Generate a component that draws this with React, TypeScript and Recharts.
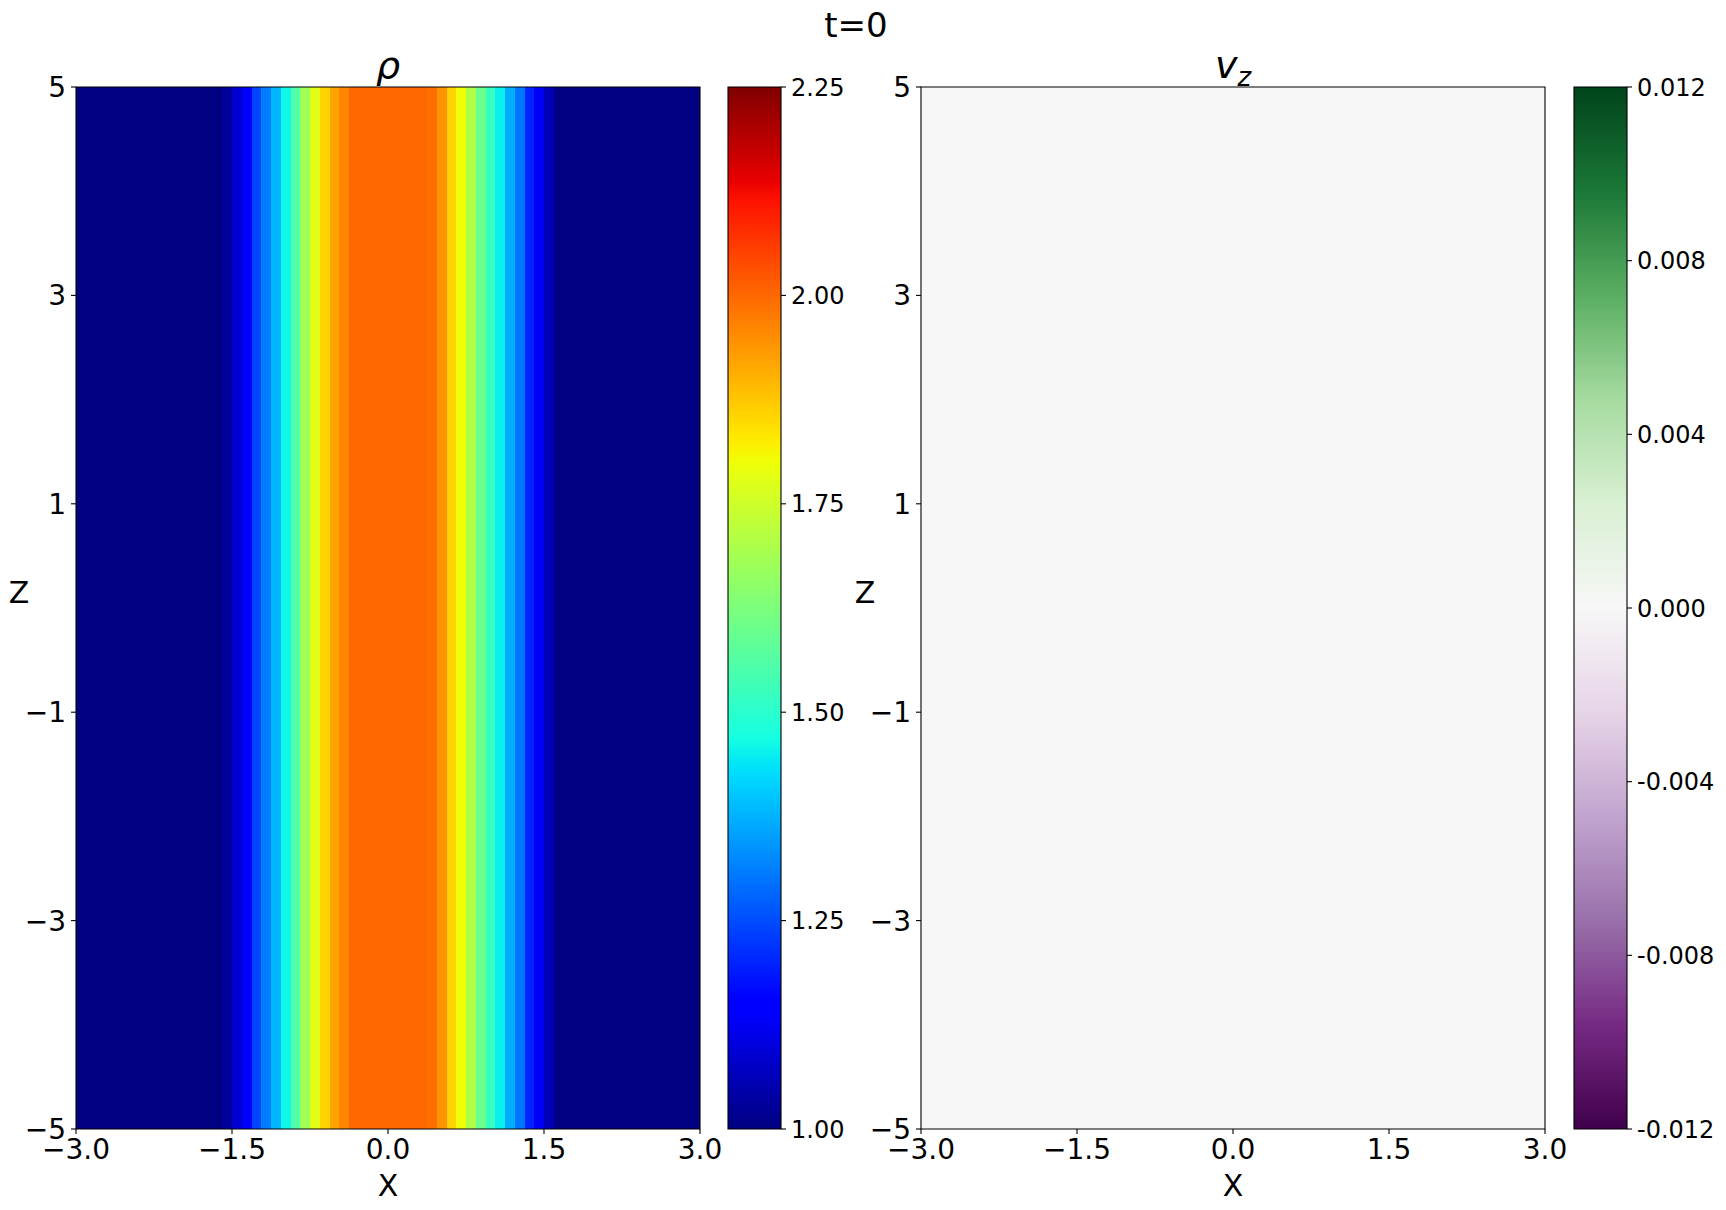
import React from 'react';
import { ComposedChart, XAxis, YAxis, ReferenceArea } from 'recharts';

// ---------- data ----------
const xMin = -3;
const xMax = 3;
const zMin = -5;
const zMax = 5;

// density profile across x (constant along z), one value per grid column
const rhoValues = [
  1.0, 1.0, 1.0, 1.0, 1.0, 1.0, 1.0, 1.0, 1.0, 1.0, 1.0, 1.0, 1.0, 1.0, 1.0,
  1.03, 1.09, 1.15, 1.24, 1.31, 1.38, 1.46, 1.56, 1.68, 1.78, 1.86, 1.92, 1.96,
  2.0, 2.0, 2.0, 2.0, 2.0, 2.0, 2.0, 2.0,
  1.99, 1.94, 1.86, 1.8, 1.7, 1.6, 1.52, 1.45, 1.37, 1.3, 1.2, 1.13, 1.06,
  1.0, 1.0, 1.0, 1.0, 1.0, 1.0, 1.0, 1.0, 1.0, 1.0, 1.0, 1.0, 1.0, 1.0, 1.0,
];

// vertical velocity across x (zero everywhere at t=0)
const vzValues = [
  0, 0, 0, 0, 0, 0, 0, 0, 0, 0, 0, 0, 0, 0, 0, 0,
  0, 0, 0, 0, 0, 0, 0, 0, 0, 0, 0, 0, 0, 0, 0, 0,
  0, 0, 0, 0, 0, 0, 0, 0, 0, 0, 0, 0, 0, 0, 0, 0,
  0, 0, 0, 0, 0, 0, 0, 0, 0, 0, 0, 0, 0, 0, 0, 0,
];

const xTicks = [-3, -1.5, 0, 1.5, 3];
const xTickLabels = ['\u22123.0', '\u22121.5', '0.0', '1.5', '3.0'];
const zTicks = [-5, -3, -1, 1, 3, 5];
const zTickLabels = ['\u22125', '\u22123', '\u22121', '1', '3', '5'];

const rhoRange = [1.0, 2.25];
const rhoTicks = [1.0, 1.25, 1.5, 1.75, 2.0, 2.25];
const rhoTickLabels = ['1.00', '1.25', '1.50', '1.75', '2.00', '2.25'];

const vzRange = [-0.012, 0.012];
const vzTicks = [-0.012, -0.008, -0.004, 0, 0.004, 0.008, 0.012];
const vzTickLabels = ['-0.012', '-0.008', '-0.004', '0.000', '0.004', '0.008', '0.012'];

// ---------- colormaps ----------
type Seg = [number, number][];
const jetR: Seg = [[0, 0], [0.35, 0], [0.66, 1], [0.89, 1], [1, 0.5]];
const jetG: Seg = [[0, 0], [0.125, 0], [0.375, 1], [0.64, 1], [0.91, 0], [1, 0]];
const jetB: Seg = [[0, 0.5], [0.11, 1], [0.34, 1], [0.65, 0], [1, 0]];

function segInterp(seg: Seg, t: number) {
  if (t <= seg[0][0]) return seg[0][1];
  for (let i = 1; i < seg.length; i++) {
    if (t <= seg[i][0]) {
      const [x0, y0] = seg[i - 1];
      const [x1, y1] = seg[i];
      return y0 + ((t - x0) / (x1 - x0)) * (y1 - y0);
    }
  }
  return seg[seg.length - 1][1];
}
const to255 = (v: number) => Math.max(0, Math.min(255, Math.round(v * 255)));
function jet(t: number) {
  const c = Math.max(0, Math.min(1, t));
  return `rgb(${to255(segInterp(jetR, c))},${to255(segInterp(jetG, c))},${to255(segInterp(jetB, c))})`;
}
const prgnColors = [
  '#40004b', '#762a83', '#9970ab', '#c2a5cf', '#e7d4e8', '#f7f7f7',
  '#d9f0d3', '#a6dba0', '#5aae61', '#1b7837', '#00441b',
];
function hexToRgb(h: string) {
  return [parseInt(h.slice(1, 3), 16), parseInt(h.slice(3, 5), 16), parseInt(h.slice(5, 7), 16)];
}
function prgn(t: number) {
  const c = Math.max(0, Math.min(1, t)) * (prgnColors.length - 1);
  const i = Math.min(prgnColors.length - 2, Math.floor(c));
  const f = c - i;
  const a = hexToRgb(prgnColors[i]);
  const b = hexToRgb(prgnColors[i + 1]);
  return `rgb(${Math.round(a[0] + (b[0] - a[0]) * f)},${Math.round(a[1] + (b[1] - a[1]) * f)},${Math.round(a[2] + (b[2] - a[2]) * f)})`;
}
const jetStops = [0, 0.11, 0.125, 0.34, 0.35, 0.375, 0.64, 0.65, 0.66, 0.89, 0.91, 1];

// ---------- layout constants ----------
const FONT = "'DejaVu Sans', sans-serif";
const TICK_FS = 28;
const CB_FS = 24;
const tickStyle = { fill: '#000', fontSize: TICK_FS, fontFamily: FONT };
const cbTickStyle = { fill: '#000', fontSize: CB_FS, fontFamily: FONT };
const tickLineStyle = { stroke: '#000', strokeWidth: 1.1 };

const PLOT_TOP = 87;
const PLOT_BOTTOM = 1129;
const FIG_H = 1210;

function buildCells(values: number[]) {
  const dx = (xMax - xMin) / values.length;
  return values.map((v, i) => ({ x1: xMin + i * dx, x2: xMin + (i + 1) * dx, v }));
}

function Heatmap({ values, colorFn }: { values: number[]; colorFn: (v: number) => string }) {
  const cells = buildCells(values);
  return (
    <ComposedChart
      width={750}
      height={FIG_H}
      data={cells}
      margin={{ top: PLOT_TOP, right: 50, left: 0, bottom: FIG_H - PLOT_BOTTOM - 40 }}
    >
      <XAxis
        type="number"
        dataKey="x1"
        domain={[xMin, xMax]}
        allowDataOverflow
        ticks={xTicks}
        interval={0}
        tickFormatter={(v: number) => xTickLabels[xTicks.indexOf(v)] ?? String(v)}
        height={40}
        tickSize={5}
        tickMargin={5}
        axisLine={false}
        tick={tickStyle}
        tickLine={tickLineStyle}
      />
      <YAxis
        type="number"
        domain={[zMin, zMax]}
        allowDataOverflow
        ticks={zTicks}
        interval={0}
        tickFormatter={(v: number) => zTickLabels[zTicks.indexOf(v)] ?? String(v)}
        width={76}
        tickSize={5}
        tickMargin={5}
        axisLine={false}
        tick={tickStyle}
        tickLine={tickLineStyle}
      />
      {cells.map((c, i) => (
        <ReferenceArea
          key={i}
          x1={c.x1}
          x2={c.x2}
          y1={zMin}
          y2={zMax}
          fill={colorFn(c.v)}
          fillOpacity={1}
          stroke="none"
          shapeRendering="crispEdges"
          ifOverflow="visible"
        />
      ))}
      <ReferenceArea
        x1={xMin}
        x2={xMax}
        y1={zMin}
        y2={zMax}
        fill="none"
        fillOpacity={0}
        stroke="#000"
        strokeWidth={1.1}
        ifOverflow="visible"
      />
    </ComposedChart>
  );
}

function Colorbar({
  id,
  range,
  ticks,
  labels,
  stops,
  width,
}: {
  id: string;
  range: number[];
  ticks: number[];
  labels: string[];
  stops: { offset: number; color: string }[];
  width: number;
}) {
  return (
    <ComposedChart
      width={width}
      height={FIG_H}
      data={[{ a: 0 }, { a: 1 }]}
      margin={{ top: PLOT_TOP, right: 0, left: 28, bottom: FIG_H - PLOT_BOTTOM }}
    >
      <defs>
        <linearGradient id={id} x1="0" y1="1" x2="0" y2="0">
          {stops.map((s, i) => (
            <stop key={i} offset={s.offset} stopColor={s.color} />
          ))}
        </linearGradient>
      </defs>
      <XAxis type="number" dataKey="a" domain={[0, 1]} hide />
      <YAxis
        type="number"
        orientation="right"
        domain={range}
        allowDataOverflow
        ticks={ticks}
        interval={0}
        tickFormatter={(v: number) => {
          const k = ticks.findIndex((t) => Math.abs(t - v) < 1e-9);
          return k >= 0 ? labels[k] : String(v);
        }}
        width={width - 28 - 53}
        tickSize={5}
        tickMargin={5}
        axisLine={false}
        tick={cbTickStyle}
        tickLine={tickLineStyle}
      />
      <ReferenceArea
        x1={0}
        x2={1}
        y1={range[0]}
        y2={range[1]}
        fill={`url(#${id})`}
        fillOpacity={1}
        stroke="#000"
        strokeWidth={1.1}
        ifOverflow="visible"
      />
    </ComposedChart>
  );
}

function Text({
  cx,
  cy,
  size,
  children,
  italic,
}: {
  cx: number;
  cy: number;
  size: number;
  children: React.ReactNode;
  italic?: boolean;
}) {
  return (
    <div
      style={{
        position: 'absolute',
        left: cx - 200,
        width: 400,
        top: cy - size * 0.48,
        textAlign: 'center',
        fontSize: size,
        lineHeight: 1,
        fontFamily: FONT,
        fontStyle: italic ? 'italic' : 'normal',
        color: '#000',
        whiteSpace: 'nowrap',
      }}
    >
      {children}
    </div>
  );
}

export default function App() {
  const jetGrad = jetStops.map((t) => ({ offset: t, color: jet(t) }));
  const prgnGrad = prgnColors.map((c, i) => ({ offset: i / (prgnColors.length - 1), color: c }));
  const rhoColor = (v: number) => jet((v - rhoRange[0]) / (rhoRange[1] - rhoRange[0]));
  const vzColor = (v: number) => prgn((v - vzRange[0]) / (vzRange[1] - vzRange[0]));
  return (
    <div
      style={{
        position: 'absolute',
        left: 0,
        top: 0,
        width: 1726,
        height: FIG_H,
        background: '#fff',
        overflow: 'hidden',
        fontFamily: FONT,
      }}
    >
      <div style={{ position: 'absolute', left: 0, top: 0 }}>
        <Heatmap values={rhoValues} colorFn={rhoColor} />
      </div>
      <div style={{ position: 'absolute', left: 700, top: 0 }}>
        <Colorbar id="jetGrad" range={rhoRange} ticks={rhoTicks} labels={rhoTickLabels} stops={jetGrad} width={160} />
      </div>
      <div style={{ position: 'absolute', left: 845, top: 0 }}>
        <Heatmap values={vzValues} colorFn={vzColor} />
      </div>
      <div style={{ position: 'absolute', left: 1546, top: 0 }}>
        <Colorbar id="prgnGrad" range={vzRange} ticks={vzTicks} labels={vzTickLabels} stops={prgnGrad} width={180} />
      </div>

      <Text cx={856} cy={24} size={34}>t=0</Text>
      <Text cx={388} cy={64} size={38} italic>ρ</Text>
      <Text cx={1233} cy={64} size={38} italic>
        v<span style={{ fontSize: 26, position: 'relative', top: 8 }}>z</span>
      </Text>
      <Text cx={388} cy={1185} size={30}>X</Text>
      <Text cx={1233} cy={1185} size={30}>X</Text>
      <Text cx={19} cy={592} size={30}>Z</Text>
      <Text cx={865} cy={592} size={30}>Z</Text>
    </div>
  );
}
